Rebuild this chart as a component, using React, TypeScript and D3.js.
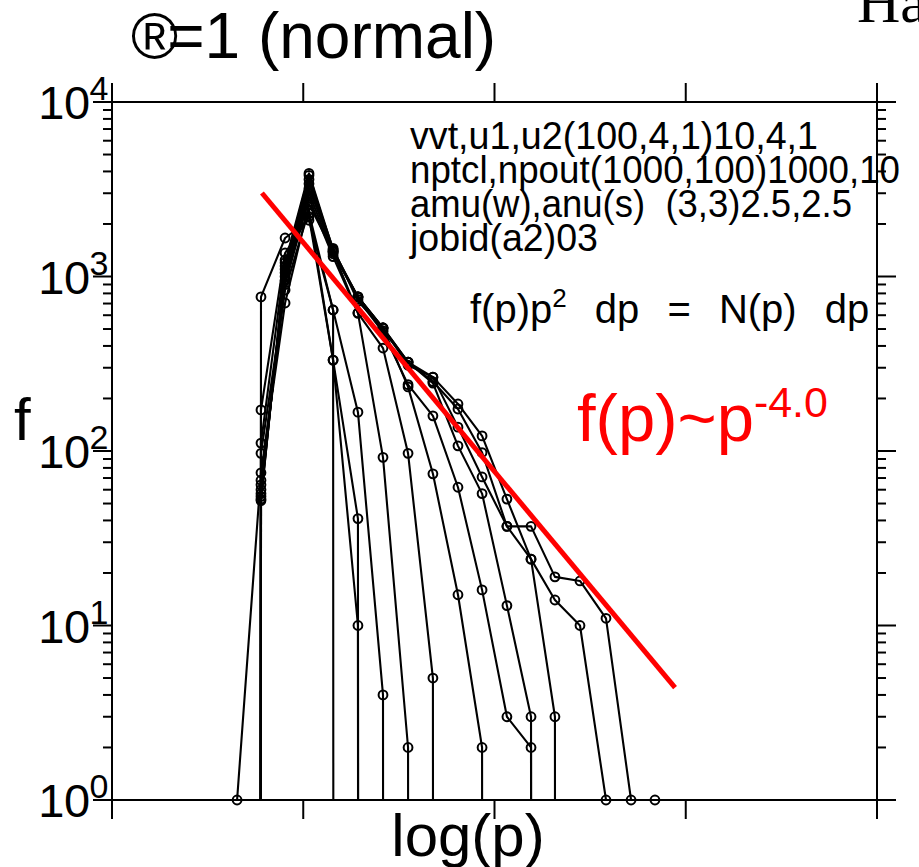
import React from "react";
import * as d3 from "d3";

// log(p) of each momentum bin
const logP = [0.654, 0.779, 0.905, 1.03, 1.156, 1.286, 1.417, 1.548, 1.678, 1.809, 1.935, 2.065, 2.191, 2.316, 2.447, 2.583, 2.714, 2.839];

// f per bin for each output step (0 = empty bin)
const run1 = [0, 764, 1662, 2100, 643, 0, 0, 0, 0, 0, 0, 0, 0, 0, 0, 0, 0, 0];
const run2 = [0, 172, 1364, 2200, 332, 10, 0, 0, 0, 0, 0, 0, 0, 0, 0, 0, 0, 0];
const run3 = [0, 111, 1244, 2300, 643, 167, 4, 0, 0, 0, 0, 0, 0, 0, 0, 0, 0, 0];
const run4 = [0, 97, 837, 2400, 332, 41, 0, 0, 0, 0, 0, 0, 0, 0, 0, 0, 0, 0];
const run5 = [1, 75, 705, 2600, 1387, 617, 92, 2, 0, 0, 0, 0, 0, 0, 0, 0, 0, 0];
const run6 = [0, 68, 900, 2800, 1300, 617, 389, 97, 5, 0, 0, 0, 0, 0, 0, 0, 0, 0];
const run7 = [0, 64, 950, 3000, 1350, 764, 507, 233, 74, 15, 2, 0, 0, 0, 0, 0, 0, 0];
const run8 = [0, 60, 1000, 3200, 1420, 740, 480, 240, 159, 62, 16, 3, 2, 0, 0, 0, 0, 0];
const run9 = [0, 57, 1050, 3400, 1387, 764, 507, 323, 245, 107, 57, 13, 3, 0, 0, 0, 0, 0];
const run10 = [0, 55, 1100, 3600, 1450, 720, 507, 310, 265, 137, 71, 37, 24, 3, 0, 0, 0, 0];
const run11 = [0, 53, 1150, 3800, 1387, 764, 490, 323, 250, 174, 98, 37, 37, 19, 18, 11, 1, 1];
const run12 = [0, 52, 1200, 3900, 1420, 764, 507, 323, 265, 186, 122, 53, 24, 14, 10, 1, 0, 0];
const runs = [run1, run2, run3, run4, run5, run6, run7, run8, run9, run10, run11, run12];

// power-law guide f(p) ~ p^-4.0
const fitLogP = [0.784, 2.944];
const fitF = [3010, 4.4];

const xTicks = [0, 1, 2, 3, 4];
const decades = [0, 1, 2, 3, 4];

const notes = [
  { text: "vvt,u1,u2(100,4,1)10,4,1", len: 408 },
  { text: "nptcl,npout(1000,100)1000,10", len: 490 },
  { text: "amu(w),anu(s)  (3,3)2.5,2.5", len: 442 },
  { text: "jobid(a2)03", len: 188 },
];

const font = "'Liberation Sans', Arial, sans-serif";

export default function App() {
  const x = d3.scaleLinear().domain([0, 4]).range([112, 877]);
  const y = d3.scaleLog().domain([1, 1e4]).range([800, 102]);
  const [x0, x1] = x.range();
  const [yb, yt] = y.range();

  const path = d3
    .line<number>()
    .x((d, i) => x(logP[i]))
    .y((d) => y(d > 0 ? d : 1e-300));

  const fit = d3
    .line<number>()
    .x((d, i) => x(fitLogP[i]))
    .y((d) => y(d));

  const minor: number[] = [];
  decades.slice(0, -1).forEach((d) => {
    for (let m = 2; m <= 9; m++) minor.push(m * Math.pow(10, d));
  });

  const major = 19;
  const small = 9;

  return (
    <svg width={919} height={867} style={{ position: "absolute", left: 0, top: 0, background: "#fff" }} fontFamily={font}>
      <defs>
        <clipPath id="plot">
          <rect x={x0} y={yt - 20} width={x1 - x0} height={yb - yt + 21} />
        </clipPath>
      </defs>

      {/* frame */}
      <g stroke="#000" strokeWidth={2} fill="none">
        <line x1={x0} x2={x1} y1={yb} y2={yb} />
        <line x1={x0} x2={x1} y1={yt} y2={yt} />
        <line x1={x0} x2={x0} y1={yt} y2={yb} />
        <line x1={x1} x2={x1} y1={yt} y2={yb} />
        {xTicks.map((t) => (
          <g key={"xt" + t}>
            <line x1={x(t)} x2={x(t)} y1={yb} y2={yb + major} />
            <line x1={x(t)} x2={x(t)} y1={yt} y2={yt - major} />
          </g>
        ))}
        {decades.map((d) => (
          <g key={"yt" + d}>
            <line x1={x0} x2={x0 - major} y1={y(Math.pow(10, d))} y2={y(Math.pow(10, d))} />
            <line x1={x1} x2={x1 + major} y1={y(Math.pow(10, d))} y2={y(Math.pow(10, d))} />
          </g>
        ))}
        {minor.map((v) => (
          <g key={"m" + v}>
            <line x1={x0} x2={x0 - small} y1={y(v)} y2={y(v)} />
            <line x1={x1} x2={x1 + small} y1={y(v)} y2={y(v)} />
          </g>
        ))}
      </g>

      {/* y tick labels */}
      {decades.map((d) => (
        <text key={"yl" + d} x={108} y={y(Math.pow(10, d)) + 17} textAnchor="end" fontSize={47} letterSpacing={-0.5}>
          10
          <tspan fontSize={34} dy={-19}>{d}</tspan>
        </text>
      ))}

      {/* curves */}
      <g clipPath="url(#plot)" fill="none" stroke="#000" strokeWidth={2.1} strokeLinejoin="round">
        {runs.map((r, i) => (
          <path key={"r" + i} d={path(r) || ""} />
        ))}
      </g>
      <g fill="none" stroke="#000" strokeWidth={2}>
        {runs.map((r, i) =>
          r.map((v, j) =>
            v > 0 ? <circle key={"c" + i + "-" + j} cx={x(logP[j])} cy={y(v)} r={4.4} /> : null
          )
        )}
      </g>

      {/* fit */}
      <path d={fit(fitF) || ""} stroke="#ff0000" strokeWidth={5} fill="none" />

      {/* annotations */}
      {notes.map((n, i) => (
        <text key={"n" + i} x={410} y={149 + i * 34} fontSize={38} textLength={n.len} lengthAdjust="spacingAndGlyphs" style={{ whiteSpace: "pre" }}>
          {n.text}
        </text>
      ))}
      <text x={470} y={323} fontSize={40} wordSpacing={17}>
        f(p)p<tspan fontSize={26} dy={-16}>2</tspan>
        <tspan dy={16}> dp = N(p) dp</tspan>
      </text>
      <text x={577} y={441} fontSize={67} fill="#ff0000">
        f(p)~p<tspan fontSize={43} dy={-24}>-4.0</tspan>
      </text>

      {/* titles */}
      <text x={131} y={58} fontSize={64}>
        ®<tspan dx={-11}>=1 (normal)</tspan>
      </text>
      <text x={857} y={22} fontSize={60} fontFamily="'Liberation Serif', serif">Ha</text>
      <text x={14} y={440} fontSize={60}>f</text>
      <text x={468} y={856} fontSize={60} textAnchor="middle">log(p)</text>
    </svg>
  );
}
